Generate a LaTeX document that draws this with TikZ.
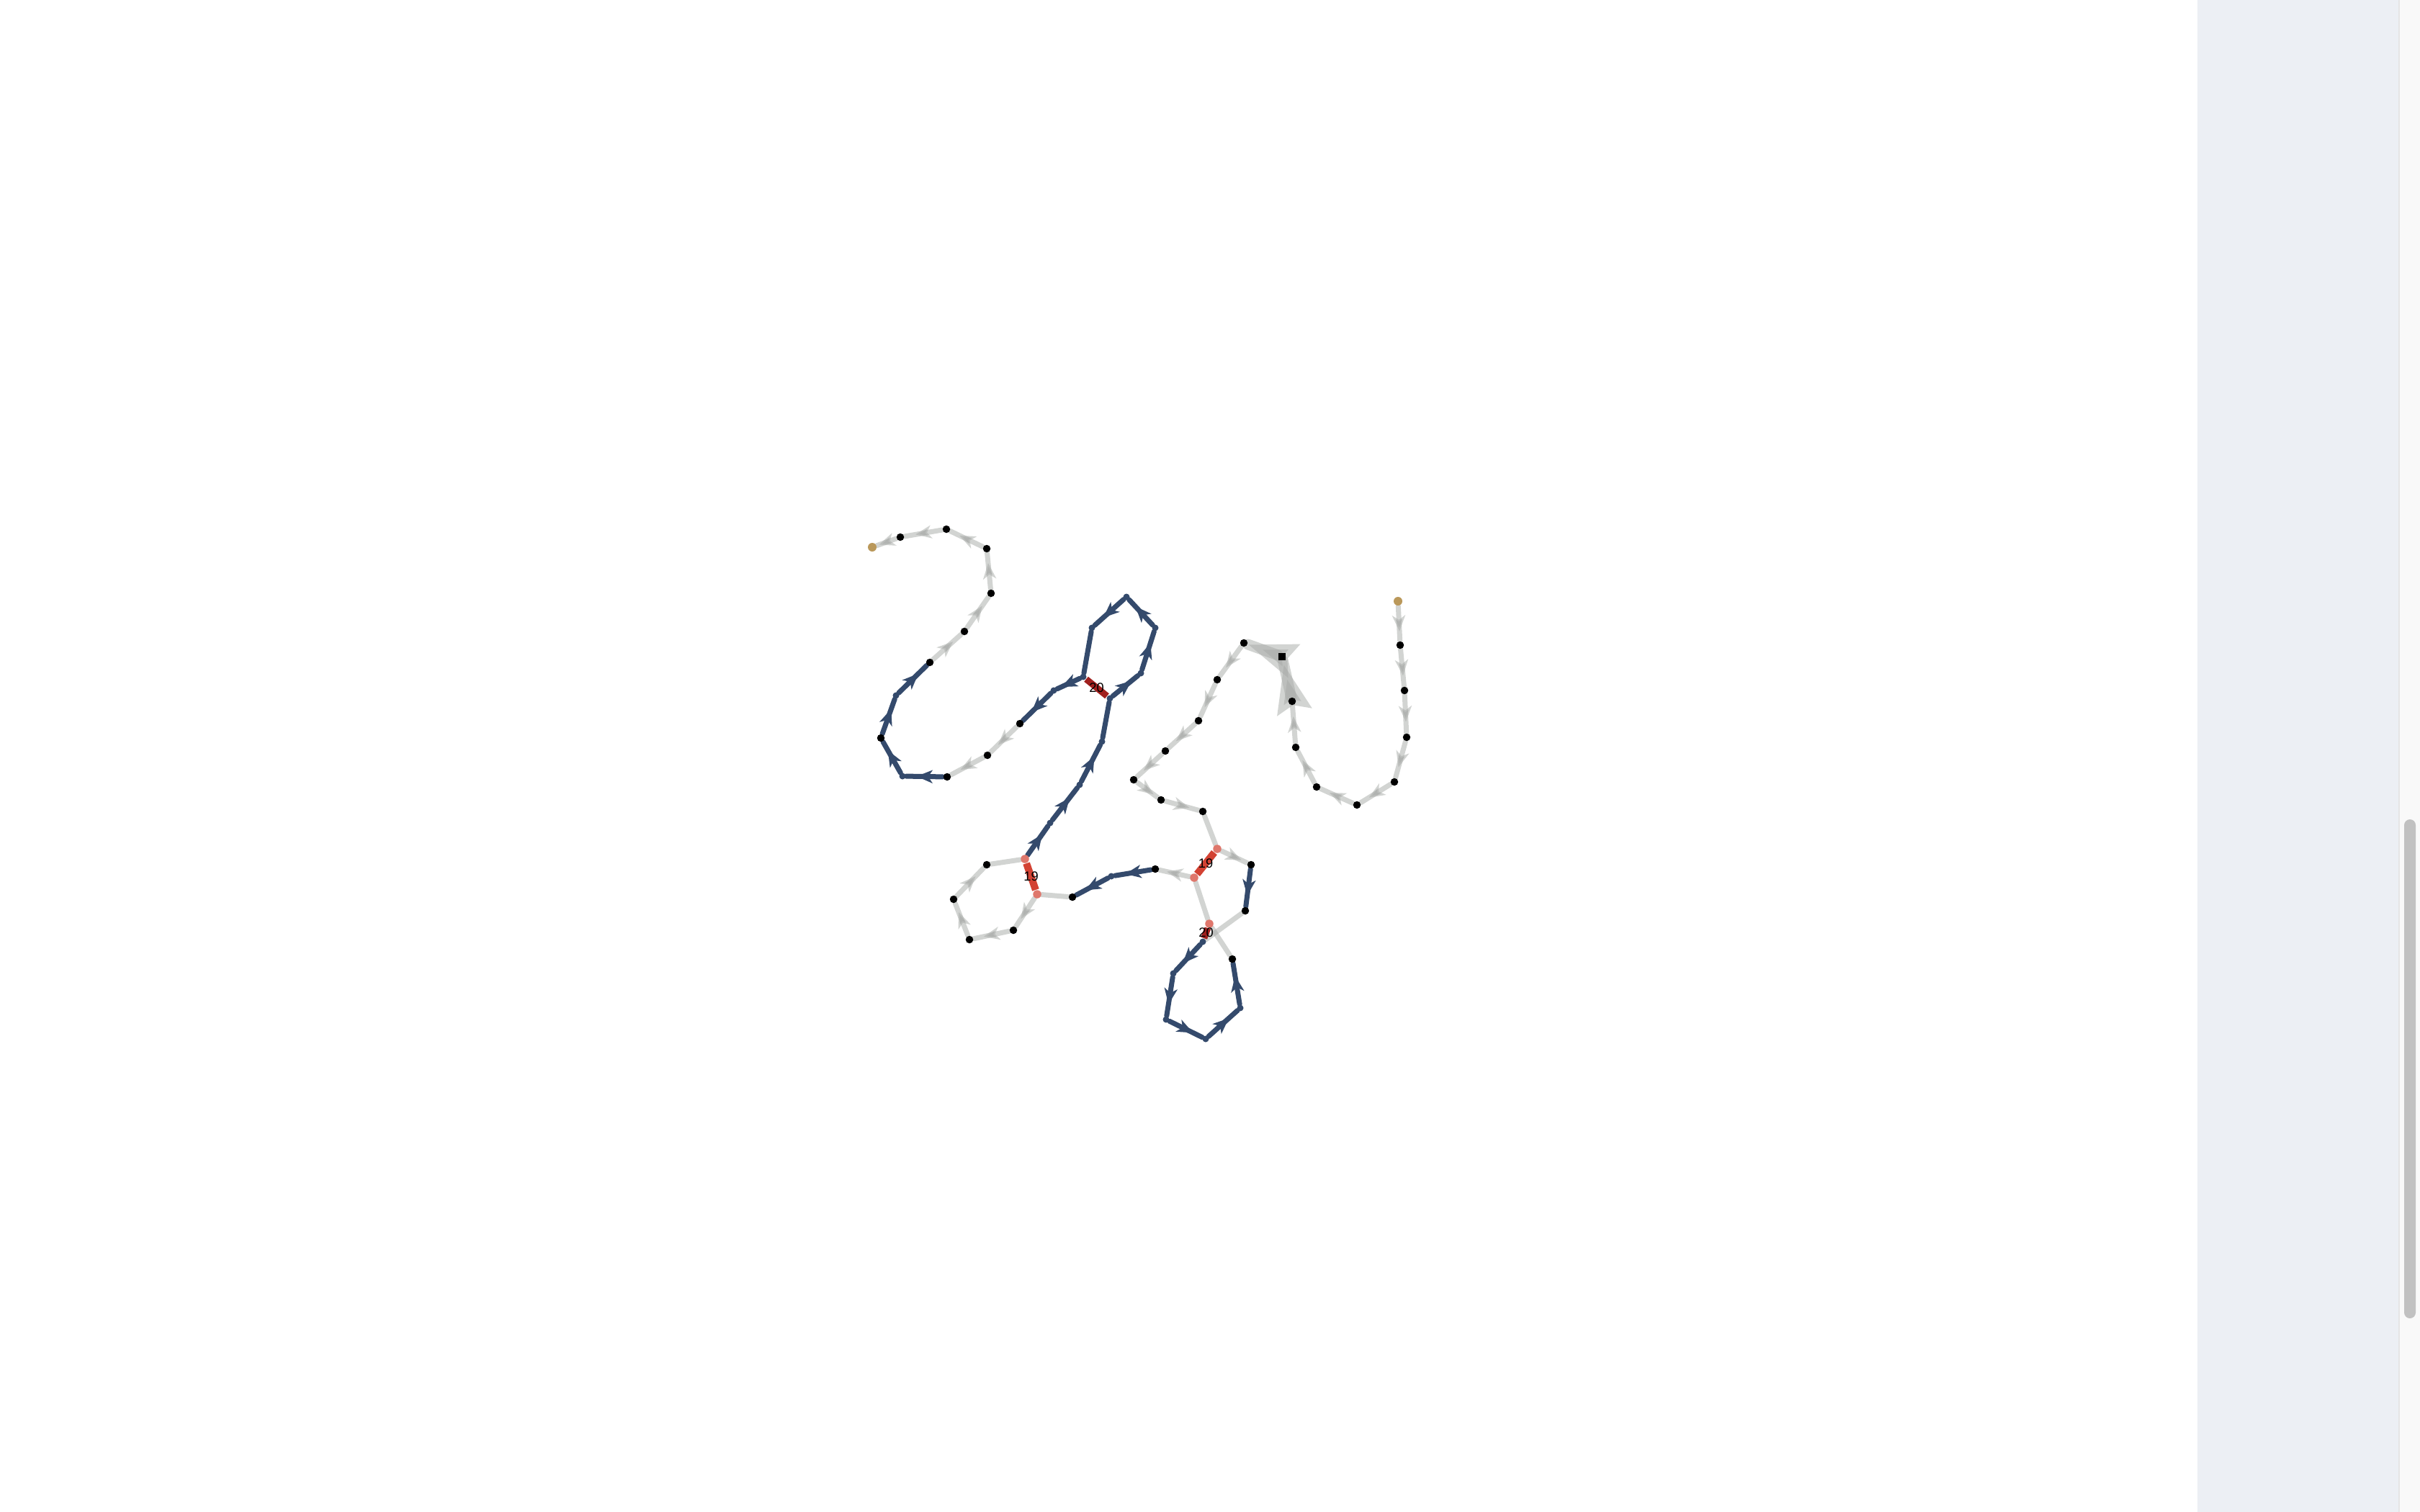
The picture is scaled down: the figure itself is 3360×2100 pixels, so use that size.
\documentclass[tikz,border=0pt]{standalone}
\usepackage{fontspec}
\setmainfont{Liberation Sans}
\usetikzlibrary{arrows.meta,decorations.markings,backgrounds,calc}

\definecolor{chainblue}{RGB}{52,74,108}
\definecolor{chaingray}{RGB}{167,170,167}
\definecolor{bondred}{RGB}{211,66,51}
\definecolor{bonddark}{RGB}{160,32,30}
\definecolor{termtan}{RGB}{186,152,90}
\definecolor{panelbg}{RGB}{236,239,244}
\definecolor{trackbg}{RGB}{249,249,249}
\definecolor{trackline}{RGB}{229,229,229}
\definecolor{thumbgray}{RGB}{193,193,193}

\begin{document}
\begin{tikzpicture}[x=0.01cm, y=-0.01cm,
    res/.style={circle, fill=black, inner sep=0pt, minimum size=0.105cm},
    joint/.style={circle, fill=chainblue, inner sep=0pt, minimum size=0.09cm},
    termres/.style={circle, fill=termtan, inner sep=0pt, minimum size=0.12cm},
    bondend/.style={circle, fill=bondred!72!white, inner sep=0pt, minimum size=0.115cm},
    ligand/.style={rectangle, fill=black, inner sep=0pt, minimum size=0.105cm},
    backbone/.style={draw=chaingray, opacity=0.5, line width=0.07cm, line cap=round},
    hilite/.style={draw=chainblue, line width=0.07cm, line cap=round},
    flow/.style={postaction={decorate, decoration={markings,
        mark=at position 0.5 with {\arrow[xshift=0.11cm]{Stealth[length=0.22cm, width=0.18cm, inset=0.06cm]}}}}},
    bigflow/.style={postaction={decorate, decoration={markings,
        mark=at position #1 with {\arrow{Stealth[length=0.66cm, width=0.46cm, inset=0.08cm]}}}}},
    ssbond/.style={draw=bondred, line width=0.1cm},
    ssdark/.style={draw=bonddark, line width=0.09cm},
    bondlabel/.style={inner sep=0pt, font=\fontsize{5.2}{6}\selectfont}]

\useasboundingbox (0,0) rectangle (3360,2100);

% Right strand (starts at the upper right end)
\node[termres] (r1) at (1941,835) {};
\node[res] (r2) at (1944,896) {};
\node[res] (r3) at (1950,959) {};
\node[res] (r4) at (1953,1024) {};
\node[res] (r5) at (1936,1086) {};
\node[res] (r6) at (1884,1118) {};
\node[res] (r7) at (1828,1093) {};
\node[res] (r8) at (1799,1038) {};
\node[res] (r9) at (1794,974) {};
\node[ligand] (r10) at (1780,912) {};
\node[res] (r11) at (1727,893) {};
\node[res] (r12) at (1690,944) {};
\node[res] (r13) at (1664,1001) {};
\node[res] (r14) at (1618,1043) {};
\node[res] (r15) at (1574,1083) {};
\node[res] (r16) at (1612,1111) {};
\node[res] (r17) at (1670,1127) {};

% Lower loops
\node[bondend] (r18) at (1690,1179) {};
\node[res] (r19) at (1737,1201) {};
\node[res] (r20) at (1729,1265) {};
\node[joint] (r21) at (1670,1308) {};
\node[joint] (r22) at (1629,1352) {};
\node[joint] (r23) at (1619,1416) {};
\node[joint] (r24) at (1674,1443) {};
\node[joint] (r25) at (1722,1400) {};
\node[res] (r26) at (1711,1332) {};
\node[bondend] (r27) at (1679,1283) {};
\node[bondend] (r28) at (1658,1219) {};
\node[res] (r29) at (1604,1207) {};
\node[joint] (r30) at (1543,1217) {};
\node[res] (r31) at (1489,1246) {};
\node[bondend] (r32) at (1440,1242) {};
\node[res] (r33) at (1407,1292) {};
\node[res] (r34) at (1346,1305) {};
\node[res] (r35) at (1324,1249) {};
\node[res] (r36) at (1370,1201) {};
\node[bondend] (r37) at (1423,1193) {};

% Upper loop
\node[joint] (r38) at (1458,1143) {};
\node[joint] (r39) at (1499,1090) {};
\node[joint] (r40) at (1530,1030) {};
\node[joint] (r41) at (1541,970) {};
\node[joint] (r42) at (1584,935) {};
\node[joint] (r43) at (1604,872) {};
\node[joint] (r44) at (1564,829) {};
\node[joint] (r45) at (1516,872) {};
\node[joint] (r46) at (1504,940) {};
\node[joint] (r47) at (1463,959) {};

% Left strand (ends at the upper left end)
\node[res] (r48) at (1416,1005) {};
\node[res] (r49) at (1371,1049) {};
\node[res] (r50) at (1315,1079) {};
\node[joint] (r51) at (1253,1078) {};
\node[res] (r52) at (1223,1025) {};
\node[joint] (r53) at (1244,966) {};
\node[res] (r54) at (1291,920) {};
\node[res] (r55) at (1339,877) {};
\node[res] (r56) at (1376,824) {};
\node[res] (r57) at (1370,762) {};
\node[res] (r58) at (1314,735) {};
\node[res] (r59) at (1250,746) {};
\node[termres] (r60) at (1211,760) {};

% Bond labels
\node[bondlabel] (l19a) at ($(r18)!0.5!(r28)$) {19};
\node[bondlabel] (l19b) at ($(r32)!0.5!(r37)$) {19};
\node[bondlabel] (l20a) at ($(r21)!0.5!(r27)$) {20};
\node[bondlabel] (l20b) at ($(r41)!0.5!(r46)$) {20};

\begin{scope}[on background layer]
% Page and side panel
\fill[white] (0,0) rectangle (3360,2100);
\fill[panelbg] (3051,0) rectangle (3331,2100);
\fill[trackbg] (3331,0) rectangle (3360,2100);
\draw[trackline, line width=0.02cm] (3331,0) -- (3331,2100);
\fill[thumbgray, rounded corners=0.08cm] (3338,1138) rectangle (3354,1831);

% Grey backbone
\draw[backbone, flow] (r1) -- (r2);
\draw[backbone, flow] (r2) -- (r3);
\draw[backbone, flow] (r3) -- (r4);
\draw[backbone, flow] (r4) -- (r5);
\draw[backbone, flow] (r5) -- (r6);
\draw[backbone, flow] (r6) -- (r7);
\draw[backbone, flow] (r7) -- (r8);
\draw[backbone, flow] (r8) -- (r9);
\draw[backbone, line width=0.15cm, bigflow=0.91] (r9) -- (r10);
\draw[backbone, line width=0.15cm, bigflow=0.999] (r10) -- (r11);
\draw[backbone, flow] (r11) -- (r12);
\draw[backbone, flow] (r12) -- (r13);
\draw[backbone, flow] (r13) -- (r14);
\draw[backbone, flow] (r14) -- (r15);
\draw[backbone, flow] (r15) -- (r16);
\draw[backbone, flow] (r16) -- (r17);
\draw[backbone] (r17) -- (r18);
\draw[backbone, flow] (r18) -- (r19);
\draw[backbone] (r20) -- (r21);
\draw[backbone] (r26) -- (r27);
\draw[backbone] (r27) -- (r28);
\draw[backbone, flow] (r28) -- (r29);
\draw[backbone] (r31) -- (r32);
\draw[backbone, flow] (r32) -- (r33);
\draw[backbone, flow] (r33) -- (r34);
\draw[backbone, flow] (r34) -- (r35);
\draw[backbone, flow] (r35) -- (r36);
\draw[backbone] (r36) -- (r37);
\draw[backbone, flow] (r48) -- (r49);
\draw[backbone, flow] (r49) -- (r50);
\draw[backbone, flow] (r54) -- (r55);
\draw[backbone, flow] (r55) -- (r56);
\draw[backbone, flow] (r56) -- (r57);
\draw[backbone, flow] (r57) -- (r58);
\draw[backbone, flow] (r58) -- (r59);
\draw[backbone, flow] (r59) -- (r60);

% Bonds
\draw[ssbond] (r18) -- (r28);
\draw[ssbond] (r37) -- (r32);
\draw[ssdark] (r27) -- (r21);
\draw[ssdark] (r46) -- (r41);

% Blue stretches
\draw[hilite, flow] (r19) -- (r20);
\draw[hilite, flow] (r21) -- (r22);
\draw[hilite, flow] (r22) -- (r23);
\draw[hilite, flow] (r23) -- (r24);
\draw[hilite, flow] (r24) -- (r25);
\draw[hilite, flow] (r25) -- (r26);
\draw[hilite, flow] (r29) -- (r30);
\draw[hilite, flow] (r30) -- (r31);
\draw[hilite, flow] (r37) -- (r38);
\draw[hilite, flow] (r38) -- (r39);
\draw[hilite, flow] (r39) -- (r40);
\draw[hilite] (r40) -- (r41);
\draw[hilite, flow] (r41) -- (r42);
\draw[hilite, flow] (r42) -- (r43);
\draw[hilite, flow] (r43) -- (r44);
\draw[hilite, flow] (r44) -- (r45);
\draw[hilite] (r45) -- (r46);
\draw[hilite, flow] (r46) -- (r47);
\draw[hilite, flow] (r47) -- (r48);
\draw[hilite, flow] (r50) -- (r51);
\draw[hilite, flow] (r51) -- (r52);
\draw[hilite, flow] (r52) -- (r53);
\draw[hilite, flow] (r53) -- (r54);
\end{scope}

\end{tikzpicture}
\end{document}
